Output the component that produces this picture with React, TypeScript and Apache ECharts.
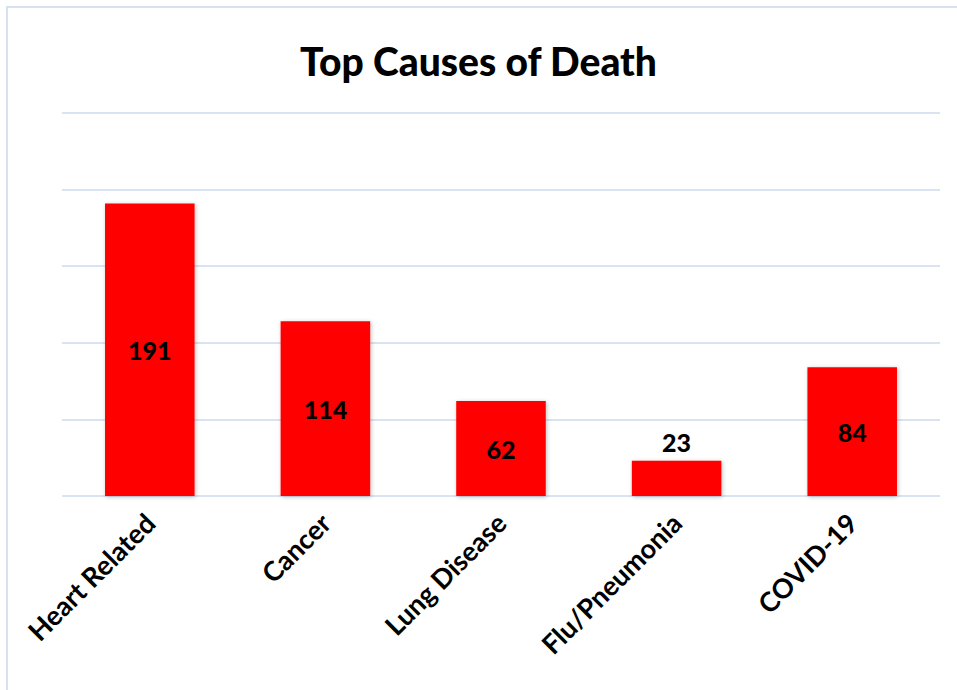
import React, { useEffect, useRef } from "react";
import * as echarts from "echarts";

const categories = ["Heart Related", "Cancer", "Lung Disease", "Flu/Pneumonia", "COVID-19"];
const values = [191, 114, 62, 23, 84];
const labelPositions = ["inside", "inside", "inside", "top", "inside"];
const titleText = "Top Causes of Death";

export default function App() {
  const ref = useRef<HTMLDivElement>(null);
  useEffect(() => {
    const chart = echarts.init(ref.current!, null, { renderer: "svg" });
    const font = "Lato, 'Open Sans', sans-serif";
    chart.setOption({
      animation: false,
      backgroundColor: "#ffffff",
      title: {
        text: titleText,
        left: "center",
        top: 36,
        textStyle: { fontFamily: font, fontWeight: 900, fontSize: 39, color: "#000" },
      },
      graphic: [
        {
          type: "rect",
          shape: { x: 7, y: 7, width: 970, height: 700 },
          style: { fill: "none", stroke: "#d6e2f1", lineWidth: 2 },
          silent: true,
        },
      ],
      grid: { left: 62, right: 17, top: 113, bottom: 194, containLabel: false },
      xAxis: {
        type: "category",
        data: categories,
        axisLine: { show: false },
        axisTick: { show: false },
        axisLabel: {
          rotate: 45,
          interval: 0,
          margin: 22,
          fontFamily: font,
          fontWeight: "bold",
          fontSize: 27,
          color: "#000",
        },
      },
      yAxis: {
        type: "value",
        min: 0,
        max: 250,
        interval: 50,
        axisLabel: { show: false },
        axisLine: { show: false },
        axisTick: { show: false },
        splitLine: { lineStyle: { color: "#d9e3f1", width: 2 } },
      },
      series: [
        {
          type: "bar",
          barWidth: "51%",
          data: values.map((v, i) => ({
            value: v,
            label: { position: labelPositions[i] },
          })),
          itemStyle: {
            color: "#ff0000",
            shadowColor: "rgba(0,0,0,0.25)",
            shadowBlur: 4,
            shadowOffsetX: 1,
            shadowOffsetY: 1,
          },
          label: {
            show: true,
            fontFamily: font,
            fontWeight: 900,
            fontSize: 25,
            color: "#000",
            distance: 6,
          },
        },
      ],
    });
    return () => chart.dispose();
  }, []);
  return (
    <div
      ref={ref}
      style={{ position: "absolute", left: 0, top: 0, width: 957, height: 690 }}
    />
  );
}
